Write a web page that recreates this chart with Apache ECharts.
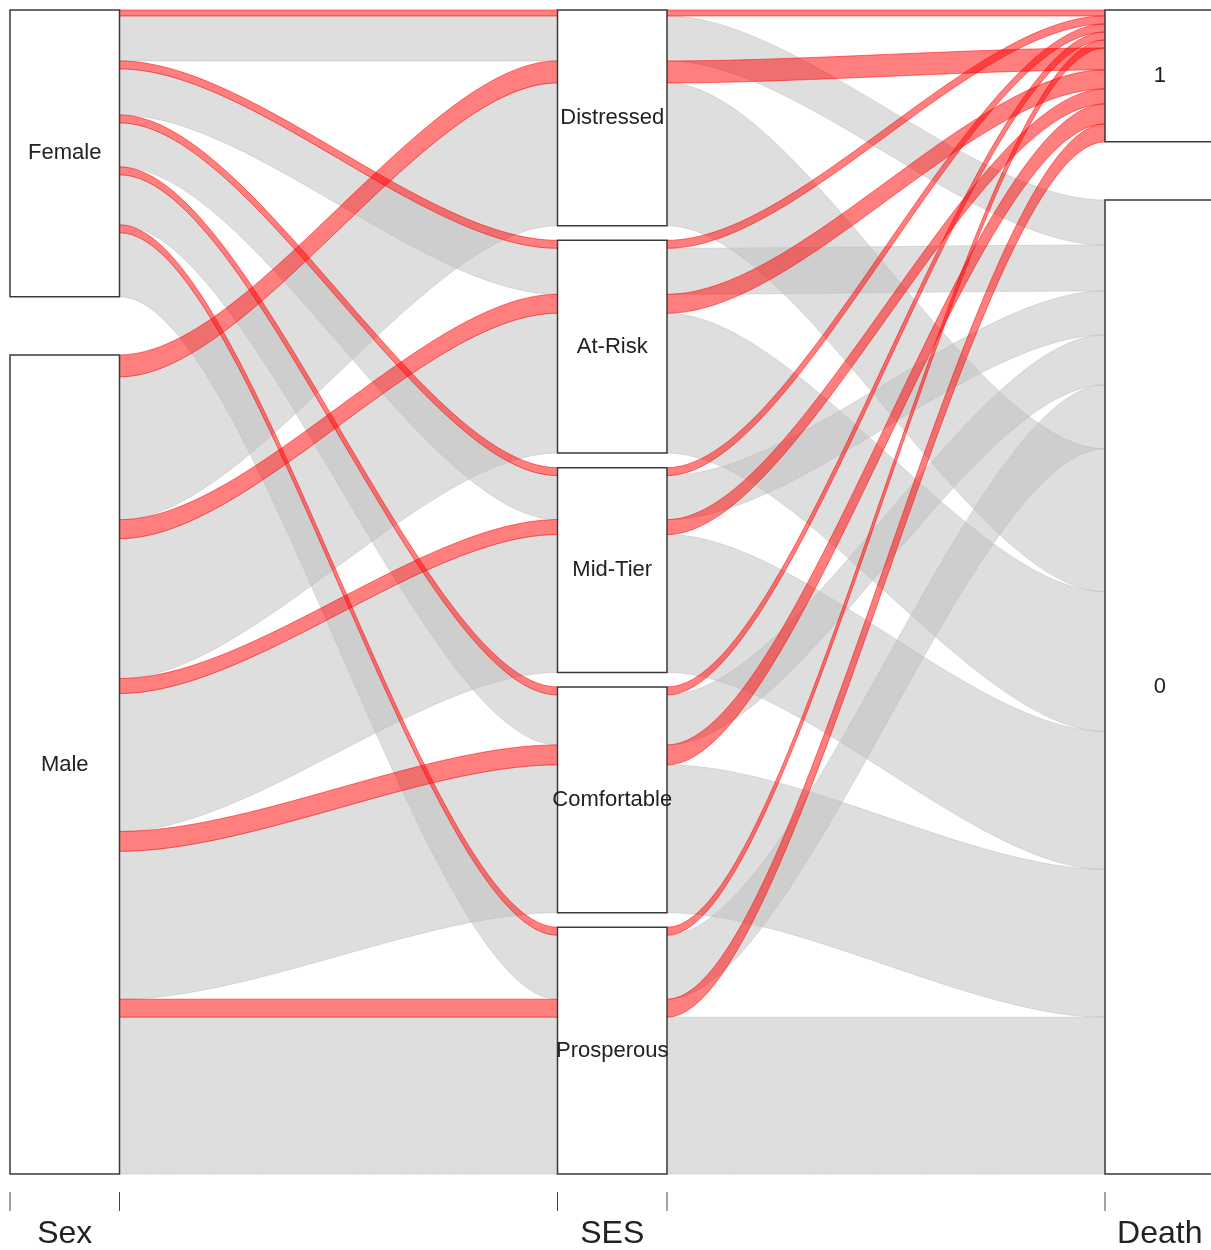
<!DOCTYPE html>
<html><head><meta charset="utf-8">
<script src="https://cdn.jsdelivr.net/npm/echarts@6/dist/echarts.min.js"></script>
<style>html,body{margin:0;padding:0;background:#fff}#c{width:1211px;height:1250px}</style>
</head><body><div id="c"></div>
<script>
// ---- data ----
const axisNames   = ['Sex', 'SES', 'Death'];
const sexLevels   = ['Male', 'Female'];                                            // bottom -> top
const sesLevels   = ['Prosperous', 'Comfortable', 'Mid-Tier', 'At-Risk', 'Distressed']; // bottom -> top
const deathLevels = ['0', '1'];                                                    // bottom -> top

const flowSex   = ['Female','Female','Female','Female','Female','Female','Female','Female','Female','Female',
                   'Male','Male','Male','Male','Male','Male','Male','Male','Male','Male'];
const flowSES   = ['Distressed','Distressed','At-Risk','At-Risk','Mid-Tier','Mid-Tier','Comfortable','Comfortable','Prosperous','Prosperous',
                   'Distressed','Distressed','At-Risk','At-Risk','Mid-Tier','Mid-Tier','Comfortable','Comfortable','Prosperous','Prosperous'];
const flowDeath = ['1','0','1','0','1','0','1','0','1','0',
                   '1','0','1','0','1','0','1','0','1','0'];
const flowFreq  = [6, 45, 8, 46, 8, 44, 8, 50, 8, 64,
                   22, 143, 19, 140, 15, 138, 20, 148, 18, 157];

// ---- layout computation (alluvial style) ----
const levelsList = [sexLevels, sesLevels, deathLevels];
const flowVars = [flowSex, flowSES, flowDeath];
const codes = flowVars.map((arr, i) => arr.map(v => levelsList[i].indexOf(v)));
const gapWidth = 0.05, cw = 0.1, curv = 0.3;
const n = flowFreq.length;
const N = flowFreq.reduce((a, b) => a + b, 0);

const pos = codes.map((_, i) => {
  const keys = [i].concat([0, 1, 2].filter(k => k !== i));
  const idx = Array.from({length: n}, (_, k) => k).sort((a, b) => {
    for (const k of keys) { const d = codes[k][a] - codes[k][b]; if (d) return d; }
    return 0;
  });
  const maxGap = Math.max(1, levelsList[i].length - 1);
  let cum = 0, gaps = 0, prev = null;
  const lo = new Array(n), hi = new Array(n);
  idx.forEach(r => {
    const lv = codes[i][r];
    if (prev !== null && lv !== prev) gaps++;
    prev = lv;
    const off = gaps / maxGap * gapWidth;
    lo[r] = cum / N * (1 - gapWidth) + off;
    cum += flowFreq[r];
    hi[r] = cum / N * (1 - gapWidth) + off;
  });
  return {lo, hi};
});

const boxes = [];
levelsList.forEach((lvls, i) => {
  lvls.forEach((name, l) => {
    let lo = Infinity, hi = -Infinity;
    for (let r = 0; r < n; r++) if (codes[i][r] === l) { lo = Math.min(lo, pos[i].lo[r]); hi = Math.max(hi, pos[i].hi[r]); }
    if (isFinite(lo)) boxes.push([2, 0.5, i, l, lo, hi]);
  });
});

// tick marks at the box edges of every axis
const tickData = [];
[1, 2, 3].forEach(a => { tickData.push([a - cw, 0.5]); tickData.push([a + cw, 0.5]); });

function bez(x0, y0, x1, y1, steps) {
  const dx = x1 - x0, pts = [];
  const p1x = x0 + curv * dx, p2x = x1 - curv * dx;
  for (let s = 0; s <= steps; s++) {
    const t = s / steps, u = 1 - t;
    const x = u*u*u*x0 + 3*u*u*t*p1x + 3*u*t*t*p2x + t*t*t*x1;
    const y = u*u*u*y0 + 3*u*u*t*y0 + 3*u*t*t*y1 + t*t*t*y1;
    pts.push([x, y]);
  }
  return pts;
}

function stripeRender(params, api) {
  const r = api.value(2);
  const red = flowDeath[r] === '1';
  const col = red ? 'rgba(255,0,0,0.5)' : 'rgba(190,190,190,0.5)';
  const children = [];
  for (let j = 0; j < 2; j++) {
    const xa = j + 1 + cw, xb = j + 2 - cw;
    const top = bez(xa, pos[j].hi[r], xb, pos[j + 1].hi[r], 60);
    const bot = bez(xa, pos[j].lo[r], xb, pos[j + 1].lo[r], 60).reverse();
    const pts = top.concat(bot).map(p => api.coord(p));
    children.push({type: 'polygon', shape: {points: pts},
      style: {fill: col, stroke: col, lineWidth: 1}});
  }
  return {type: 'group', children};
}

function boxRender(params, api) {
  const i = api.value(2), l = api.value(3), lo = api.value(4), hi = api.value(5);
  const p0 = api.coord([i + 1 - cw, hi]);
  const p1 = api.coord([i + 1 + cw, lo]);
  const c = api.coord([i + 1, (lo + hi) / 2]);
  return {type: 'group', children: [
    {type: 'rect', shape: {x: p0[0], y: p0[1], width: p1[0] - p0[0], height: p1[1] - p0[1]},
     style: {fill: '#fff', stroke: '#3a3a3a', lineWidth: 1.5}},
    {type: 'text', x: c[0], y: c[1],
     style: {text: levelsList[i][l], align: 'center', verticalAlign: 'middle',
             fontSize: 22, fontFamily: 'Liberation Sans, Arial, sans-serif', fill: '#222'}}
  ]};
}

function tickRender(params, api) {
  const x = api.value(0);
  const p0 = api.coord([x, -18 / 1165]);
  const p1 = api.coord([x, -37 / 1165]);
  return {type: 'line', shape: {x1: p0[0], y1: p0[1], x2: p1[0], y2: p1[1]},
          style: {stroke: '#444', lineWidth: 1}};
}

const grayData = [], redData = [];
for (let r = 0; r < n; r++) (flowDeath[r] === '1' ? redData : grayData).push([2, 0.5, r]);

// 547.5 px per axis unit; 1165 px per unit of y
const chart = echarts.init(document.getElementById('c'), null, {renderer: 'canvas'});
chart.setOption({
  animation: false,
  backgroundColor: '#fff',
  grid: {left: 10, top: 10, width: 1201, height: 1183},
  xAxis: {
    type: 'value', min: 0.9, max: 0.9 + 1201 / 547.5,
    axisLine: {show: false}, splitLine: {show: false},
    axisTick: {show: false},
    axisLabel: {show: true, customValues: [1, 2, 3], margin: 26, hideOverlap: false,
                showMinLabel: true, showMaxLabel: true,
                formatter: v => axisNames[Math.round(v) - 1],
                fontSize: 32, fontFamily: 'Liberation Sans, Arial, sans-serif', color: '#222'}
  },
  yAxis: {type: 'value', min: -18 / 1165, max: 1, show: false, splitLine: {show: false}},
  series: [
    {type: 'custom', renderItem: stripeRender, data: grayData, z: 1, silent: true},
    {type: 'custom', renderItem: stripeRender, data: redData, z: 2, silent: true},
    {type: 'custom', renderItem: boxRender, data: boxes, z: 3, silent: true},
    {type: 'custom', renderItem: tickRender, data: tickData, z: 3, silent: true, clip: false}
  ]
});
</script>
</body></html>
